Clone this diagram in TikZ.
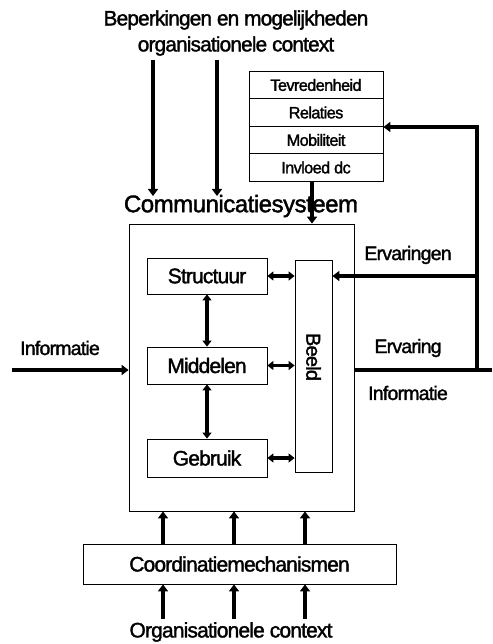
\documentclass[tikz,border=0pt]{standalone}
\usepackage{fontspec}
\setmainfont{Liberation Sans}[FakeBold=1.6]
\usetikzlibrary{arrows.meta}
\begin{document}
\begin{tikzpicture}[x=1pt,y=-1pt,
  box/.style={draw, line width=0.8pt, inner sep=0pt},
  fat/.style={line width=3.2pt, -{Triangle[length=7pt,width=10pt]}},
  fatline/.style={line width=3.2pt},
  fatboth/.style={line width=3.2pt, {Triangle[length=6pt,width=9pt]}-{Triangle[length=6pt,width=9pt]}},
  fnt/.style={font=\fontsize{#1}{#1}\selectfont\addfontfeature{LetterSpace=-4}},
  txt/.style={fnt=21},
  lbl/.style={fnt=19.5},
  toptxt/.style={fnt=20.8},
  small/.style={fnt=16.4},
  big/.style={font=\fontsize{24}{24}\selectfont\addfontfeature{LetterSpace=-2}}
]
\useasboundingbox (0,0) rectangle (492,644);

% top text
\node[toptxt] (top1) at (236,20) {Beperkingen en mogelijkheden};
\node[toptxt] (top2) at (236,46) {organisationele context};

% table
\node[box, minimum width=134, minimum height=27.5, small] (t1) at (316,85) {Tevredenheid};
\node[box, minimum width=134, minimum height=27.5, small] (t2) at (316,112.5) {Relaties};
\node[box, minimum width=134, minimum height=27.5, small] (t3) at (316,140) {Mobiliteit};
\node[box, minimum width=134, minimum height=27.5, small] (t4) at (316,167.5) {Invloed dc};

% main system
\node[big] (title) at (241,206) {Communicatiesysteem};
\node[box, minimum width=225, minimum height=287] (main) at (241.5,367.5) {};
\node[box, minimum width=120, minimum height=36, txt] (struct) at (207,276) {Structuur};
\node[box, minimum width=120, minimum height=37, txt] (midd) at (207,365.5) {Middelen};
\node[box, minimum width=120, minimum height=38, txt] (gebr) at (207,458) {Gebruik};
\node[box, minimum width=37, minimum height=212] (beeld) at (313.5,366) {};
\node[fnt=20, rotate=-90] (beeldtxt) at (313.5,357) {Beeld};

% coordination
\node[box, minimum width=313, minimum height=40, txt] (coord) at (239.5,564) {Coordinatiemechanismen};
\node[txt] (org) at (231,632) {Organisationele context};

% labels
\node[lbl] (ervs) at (408,255) {Ervaringen};
\node[lbl] (erv) at (408,348) {Ervaring};
\node[lbl] (infr) at (408,393) {Informatie};
\node[lbl] (infl) at (60,348) {Informatie};

% coordinates
\coordinate (a1) at (153,60);
\coordinate (a2) at (217,60);
\coordinate (a1e) at (153,196);
\coordinate (a2e) at (217,196);
\coordinate (inl) at (12,370);
\coordinate (outr) at (492,370);
\coordinate (fb) at (477,370);
\coordinate (fbt) at (477,127);
\coordinate (fbm) at (477,276);
\coordinate (c1) at (163,619);
\coordinate (c2) at (234,619);
\coordinate (c3) at (305,619);

% top arrows
\draw[fat] (a1) -- (a1e);
\draw[fat] (a2) -- (a2e);
\draw[fat] (t4.south -| 312,0) -- (main.north -| 312,0);

% internal arrows
\draw[fatboth] (struct.south) -- (midd.north);
\draw[fatboth] (midd.south) -- (gebr.north);
\draw[fatboth] (struct.east) -- (struct.east -| beeld.west);
\draw[fatboth] (midd.east) -- (midd.east -| beeld.west);
\draw[fatboth] (gebr.east) -- (gebr.east -| beeld.west);

% input / output
\draw[fat] (inl) -- (inl -| main.west);
\draw[fatline] (main.east |- outr) -- (outr);
\draw[fat] (fb) -- (fbt) -- (fbt -| t3.east);
\draw[fat] (fbm) -- (fbm -| beeld.east);

% coordination arrows
\draw[fat] (c1) -- (c1 |- coord.south);
\draw[fat] (c2) -- (c2 |- coord.south);
\draw[fat] (c3) -- (c3 |- coord.south);
\draw[fat] (c1 |- coord.north) -- (c1 |- main.south);
\draw[fat] (c2 |- coord.north) -- (c2 |- main.south);
\draw[fat] (c3 |- coord.north) -- (c3 |- main.south);
\end{tikzpicture}
\end{document}
